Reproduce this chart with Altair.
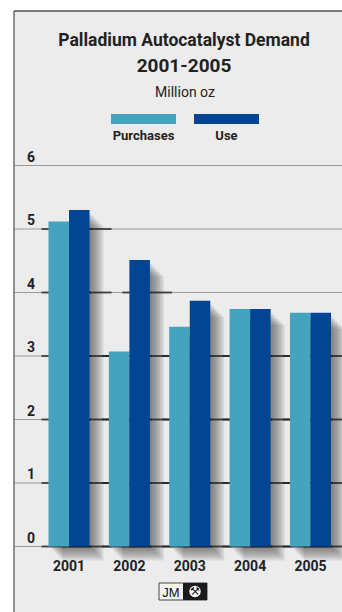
import altair as alt
import pandas as pd

years = ["2001", "2002", "2003", "2004", "2005"]
purchases = [5.12, 3.07, 3.46, 3.74, 3.68]
use = [5.30, 4.51, 3.87, 3.74, 3.68]
series = ["Purchases", "Use"]
colors = ["#44a3be", "#034592"]
ticks = [0, 1, 2, 3, 4, 5, 6]

FONT = "Roboto, sans-serif"
TXT = "#222222"

rows = []
for i, y in enumerate(years):
    rows.append({"year": y, "series": "Purchases", "value": purchases[i]})
    rows.append({"year": y, "series": "Use", "value": use[i]})
bars_df = pd.DataFrame(rows)

seg_rows = []
for r in rows:
    for g in ticks:
        if g < r["value"]:
            seg_rows.append({"year": r["year"], "series": r["series"], "g": g})
seg_df = pd.DataFrame(seg_rows)

grid_df = pd.DataFrame({"g": ticks})
year_df = pd.DataFrame({"year": years})
one = pd.DataFrame({"a": [0]})

XR = [48.5, 331]
PI = 0.32
BW = (XR[1] - XR[0]) / (len(years) - PI) * (1 - PI)

xs = alt.Scale(domain=years, range=XR, paddingInner=PI, paddingOuter=0)
ys = alt.Scale(domain=[0, 6], range=[546.5, 165.5], nice=False, zero=False)

X = alt.X("year:N", scale=xs, axis=None)


def XO(shift=0.0):
    return alt.XOffset("series:N", scale=alt.Scale(domain=series, range=[shift, BW + shift],
                                                   paddingInner=0, paddingOuter=0))


panel = alt.Chart(one).mark_rect(fill="#ececec").encode(
    x=alt.value(14), x2=alt.value(342), y=alt.value(11), y2=alt.value(612))
frame_left = alt.Chart(one).mark_rule(color="#707070", strokeWidth=1.5).encode(
    x=alt.value(14), y=alt.value(11), y2=alt.value(612))
frame_top = alt.Chart(one).mark_rule(color="#505050", strokeWidth=1.5).encode(
    x=alt.value(14), x2=alt.value(342), y=alt.value(11))

grid = alt.Chart(grid_df).mark_rule(color="#9a9a9a", strokeWidth=1).encode(
    x=alt.value(14), x2=alt.value(342), y=alt.Y("g:Q", scale=ys, axis=None))

shadows = []
for d in [2, 4, 6, 8, 10, 12, 14]:
    shadows.append(
        alt.Chart(bars_df).mark_bar(color="#333333", opacity=0.11, yOffset=d + 2, y2Offset=d)
        .encode(x=X, xOffset=XO(d), y=alt.Y("value:Q", scale=ys, axis=None), y2=alt.datum(0))
    )

segs = alt.Chart(seg_df).mark_tick(color="#1c1c1c", thickness=2, size=BW / 2 + 29).encode(
    x=X, xOffset=XO(7.5), y=alt.Y("g:Q", scale=ys, axis=None))

bars = alt.Chart(bars_df).mark_bar().encode(
    x=X, xOffset=XO(0),
    y=alt.Y("value:Q", scale=ys, axis=None), y2=alt.datum(0),
    color=alt.Color("series:N", scale=alt.Scale(domain=series, range=colors), legend=None),
)

ylabels = alt.Chart(grid_df).mark_text(
    align="left", baseline="alphabetic", dy=-4, font=FONT, fontSize=14, fontWeight="bold", color=TXT
).encode(x=alt.value(27), y=alt.Y("g:Q", scale=ys, axis=None), text="g:Q")

xlabels = alt.Chart(year_df).mark_text(
    align="center", baseline="alphabetic", font=FONT, fontSize=14, fontWeight="bold", color=TXT
).encode(x=alt.X("year:N", scale=xs, axis=None), y=alt.value(571), text="year:N")


def label(txt, x, y, size, weight="bold"):
    return alt.Chart(one).mark_text(
        text=txt, align="center", baseline="alphabetic", font=FONT, fontSize=size,
        fontWeight=weight, color=TXT
    ).encode(x=alt.value(x), y=alt.value(y))


t1 = label("Palladium Autocatalyst Demand", 184, 46, 17.5)
t2 = label("2001-2005", 184, 72, 19)
t3 = label("Million oz", 185, 97, 14, "normal")

legend_layers = []
for name, col, x0 in zip(series, colors, [111, 194]):
    legend_layers.append(alt.Chart(one).mark_rect(color=col).encode(
        x=alt.value(x0), x2=alt.value(x0 + 65), y=alt.value(114), y2=alt.value(124)))
    legend_layers.append(label(name, x0 + 32.5, 140, 13))

logo_w = alt.Chart(one).mark_rect(fill="#f4f4f4", stroke="#444444", strokeWidth=1).encode(
    x=alt.value(159), x2=alt.value(207), y=alt.value(583), y2=alt.value(600))
logo_b = alt.Chart(one).mark_rect(fill="#1a1a1a").encode(
    x=alt.value(183), x2=alt.value(207), y=alt.value(583), y2=alt.value(600))
logo_t = alt.Chart(one).mark_text(text="JM", font="Liberation Sans, Arial, sans-serif", fontSize=13,
                                  align="center", baseline="alphabetic", color="#111111").encode(
    x=alt.value(171), y=alt.value(597))
logo_c = alt.Chart(one).mark_point(shape="circle", filled=True, color="#ffffff", size=130, opacity=1).encode(
    x=alt.value(195), y=alt.value(591.5))
logo_i = alt.Chart(one).mark_text(text="⚒", font="DejaVu Sans", fontSize=11,
                                  align="center", baseline="middle", color="#1a1a1a").encode(
    x=alt.value(195), y=alt.value(592))

chart = alt.layer(
    panel, grid, *shadows, segs, bars, frame_left, frame_top,
    ylabels, xlabels, t1, t2, t3, *legend_layers,
    logo_w, logo_b, logo_t, logo_c, logo_i
).resolve_scale(xOffset="independent").properties(
    width=342, height=612, padding=0, autosize=alt.AutoSizeParams(type="none"),
    background="#ffffff"
).configure_view(stroke=None)

chart.save("out.html", embed_options={"renderer": "svg", "actions": False})
